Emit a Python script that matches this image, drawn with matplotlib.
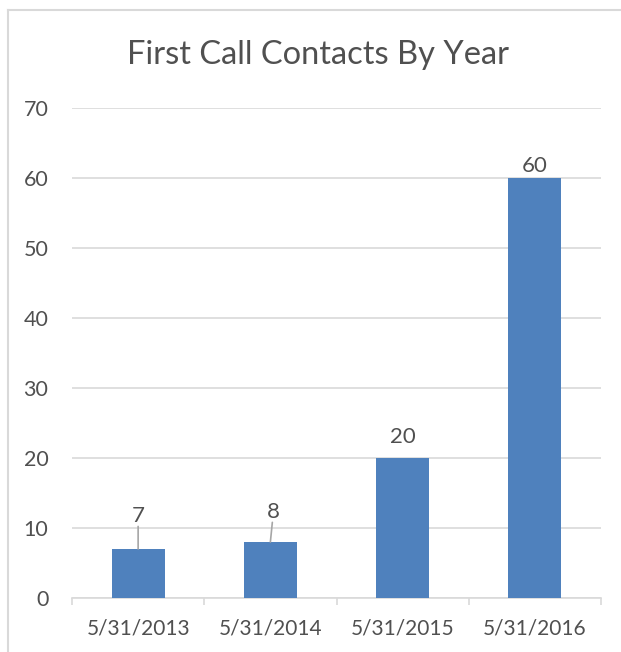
import numpy as np
import matplotlib.pyplot as plt
from matplotlib.lines import Line2D

plt.rcParams["font.family"] = ["Lato", "DejaVu Sans"]

categories = ["5/31/2013", "5/31/2014", "5/31/2015", "5/31/2016"]
contacts = [7, 8, 20, 60]
# data-label baseline offsets in pixels (x, y); leader line when label floats away
label_offsets = [(0, 27), (3, 24), (0, 15), (0, 6)]
leader = [True, True, False, False]

TEXT = "#505050"
GRID = "#d9d9d9"
BAR = "#4f81bd"

W, H = 621, 652
fig = plt.figure(figsize=(W / 100, H / 100), dpi=100)
ax = fig.add_axes([72 / W, 1 - 598 / H, (601 - 72) / W, (598 - 108) / H])

x = np.arange(len(categories))
ax.bar(x, contacts, width=0.4, color=BAR, zorder=3)

ax.set_xlim(-0.5, len(categories) - 0.5)
ax.set_ylim(0, 70)
ax.set_yticks(range(0, 71, 10))
ax.yaxis.grid(True, color=GRID, lw=1.2, zorder=0)
ax.set_xticks(x)
ax.set_xticklabels(categories)
ax.set_xticks(np.arange(-0.5, len(categories)), minor=True)
ax.tick_params(axis="x", which="major", length=0, pad=15, labelsize=15, labelcolor=TEXT)
ax.tick_params(axis="x", which="minor", length=5, width=1.2, color=GRID)
ax.tick_params(axis="y", length=0, pad=17, labelsize=15.5, labelcolor=TEXT)
for s in ["left", "right", "top"]:
    ax.spines[s].set_visible(False)
ax.spines["bottom"].set_color(GRID)
ax.spines["bottom"].set_linewidth(1.2)

for xi, v, off, ld in zip(x, contacts, label_offsets, leader):
    ax.annotate(str(v), xy=(xi, v), xytext=off, textcoords="offset pixels",
                ha="center", va="baseline", fontsize=16, color=TEXT,
                arrowprops=dict(arrowstyle="-", color="#a6a6a6", lw=1.2, patchA=None,
                                shrinkA=7.5, shrinkB=0) if ld else None)

fig.text(318 / W, 1 - 55 / H, "First Call Contacts By Year", ha="center", va="center",
         fontsize=23.5, color=TEXT)

# chart border (only top and left edges visible in the crop)
fig.add_artist(Line2D([8 / W, 1], [1 - 10 / H] * 2, color=GRID, lw=1.5))
fig.add_artist(Line2D([8 / W] * 2, [0, 1 - 10 / H], color=GRID, lw=1.5))

fig.savefig("out.png", dpi=100, facecolor="white")
